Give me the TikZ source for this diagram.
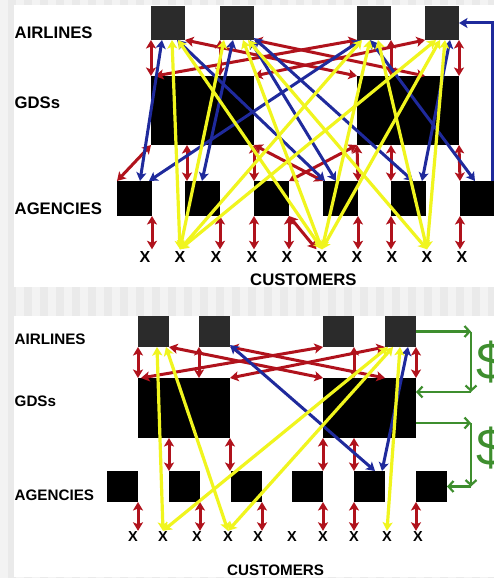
\documentclass[tikz,border=0pt]{standalone}
\usepackage{fontspec}
\setmainfont{Liberation Sans}
\usetikzlibrary{arrows.meta,calc}
\definecolor{bggray}{HTML}{EAEAEA}
\definecolor{stripe}{HTML}{F3F3F3}
\definecolor{airgray}{HTML}{2B2B2B}
\definecolor{linkred}{HTML}{B0121C}
\definecolor{linkblue}{HTML}{1F2A9C}
\definecolor{linkyellow}{HTML}{F0F51E}
\definecolor{moneygreen}{HTML}{3E8E2E}

\begin{document}
\begin{tikzpicture}[x=1pt,y=-1pt,
  >={Stealth[length=8.5pt,width=10pt,inset=2pt]},
  boxbase/.style={inner sep=0pt, outer sep=0pt, anchor=north west},
  airbox/.style={boxbase, fill=airgray, minimum width=34pt, minimum height=34pt},
  airboxsm/.style={boxbase, fill=airgray, minimum width=31pt, minimum height=31pt},
  gdsbox/.style={boxbase, fill=black},
  agbox/.style={boxbase, fill=black, minimum width=35pt, minimum height=35pt},
  agboxsm/.style={boxbase, fill=black, minimum width=31pt, minimum height=31pt},
  lbl/.style={font=\bfseries\fontsize{16.7}{18}\selectfont, anchor=west, inner sep=0pt},
  lblsm/.style={font=\bfseries\fontsize{15.2}{16}\selectfont, anchor=west, inner sep=0pt},
  cust/.style={font=\bfseries\fontsize{16}{16}\selectfont, inner xsep=0pt, inner ysep=2pt},
  custsm/.style={font=\bfseries\fontsize{14.5}{14.5}\selectfont, inner xsep=0pt, inner ysep=1pt},
  redlink/.style={draw=linkred, line width=3pt, <->},
  bluelink/.style={draw=linkblue, line width=3pt, <->},
  yellink/.style={draw=linkyellow, line width=3.2pt, <->},
  greenlink/.style={draw=moneygreen, line width=2.2pt, -{Straight Barb[length=5pt,width=11pt]}},
  dollar/.style={font=\fontsize{52}{52}\selectfont, text=moneygreen, anchor=west, inner sep=0pt}
]
\useasboundingbox (0,0) rectangle (494,578);

% page background with faint vertical stripes
\fill[bggray] (0,0) rectangle (494,578);
\foreach \sx in {0,16,...,480} {\fill[stripe] (\sx,0) rectangle ++(8,578);}
\fill[white] (14,5) rectangle (494,287);
\fill[white] (14,316) rectangle (494,577);

% ================= upper network =================
\node[lbl] (tlair) at (14.5,33) {AIRLINES};
\node[lbl] (tlgds) at (14.5,102.5) {GDSs};
\node[lbl] (tlag) at (14.5,208.5) {AGENCIES};
\node[lbl] (tlcust) at (250,280) {CUSTOMERS};

\node[airbox] (ta1) at (151,6) {};
\node[airbox] (ta2) at (220,6) {};
\node[airbox] (ta3) at (357,6) {};
\node[airbox] (ta4) at (425,6) {};
\node[gdsbox, minimum width=103pt, minimum height=69pt] (tg1) at (151,76) {};
\node[gdsbox, minimum width=102pt, minimum height=69pt] (tg2) at (357,76) {};
\node[agbox] (tc1) at (117,181) {};
\node[agbox] (tc2) at (185,181) {};
\node[agbox] (tc3) at (254,181) {};
\node[agbox] (tc4) at (323,181) {};
\node[agbox] (tc5) at (391,181) {};
\node[agbox] (tc6) at (460,181) {};
\foreach \i/\cx in {1/145,2/180,3/216,4/252,5/287,6/322,7/357,8/392,9/427,10/462}
  {\node[cust] (tx\i) at (\cx,257) {X};}

% airlines <-> GDSs
\draw[redlink] (ta1.south west) -- (tg1.north west);
\draw[redlink] (ta2.south west) -- (ta2.south west |- tg1.north);
\draw[redlink] (ta1.south east) -- (tg2.north west);
\draw[redlink] ([xshift=4pt]tg1.north west) -- (ta3.south west);
\draw[redlink] (tg1.north east) -- (ta4.south west);
\draw[redlink] (ta2.south east) -- (ta4.south west |- tg2.north);
\draw[redlink] (ta3.south east) -- (ta3.south east |- tg2.north);
\draw[redlink] (ta4.south east) -- (tg2.north east);
% GDSs <-> agencies
\draw[redlink] (tg1.south west) -- (tc1.north west);
\draw[redlink] ([xshift=2pt]tc2.north west) -- ([xshift=2pt]tc2.north west |- tg1.south);
\draw[redlink] (tg1.south east) -- (tc3.north west);
\draw[redlink] (tg1.south east) -- (tc4.north west);
\draw[redlink] (tg2.south west) -- (tc3.north east);
\draw[redlink] (tg2.south west) -- (tc4.north east);
\draw[redlink] (tc5.north west) -- (tc5.north west |- tg2.south);
\draw[redlink] (tc6.north west) -- (tg2.south east);
% agencies <-> customers
\draw[redlink] (tc1.south east) -- (tc1.south east |- tx1.north);
\draw[redlink] (tc2.south east) -- (tc2.south east |- tx3.north);
\draw[redlink] (tc3.south west) -- (tc3.south west |- tx4.north);
\draw[redlink] (tc3.south east) -- (tc3.south east |- tx5.north);
\draw[redlink] (tc3.south east) -- (tx6.north west);
\draw[redlink] (tc4.south east) -- (tc4.south east |- tx7.north);
\draw[redlink] (tc5.south west) -- (tc5.south west |- tx8.north);
\draw[redlink] (tc6.south west) -- (tc6.south west |- tx10.north);

% airlines <-> agencies
\draw[bluelink] ([xshift=11pt]ta1.south west) -- ([xshift=23pt]tc1.north west);
\draw[bluelink] ([xshift=26pt]ta1.south west) -- ([xshift=2pt]tc4.north west);
\draw[bluelink] ([xshift=13pt]ta2.south west) -- ([xshift=17pt]tc2.north west);
\draw[bluelink] ([xshift=30pt]ta2.south west) -- ([xshift=13pt]tc4.north west);
\draw[bluelink] ([yshift=2pt]ta2.south east) -- ([xshift=22pt]tc5.north west);
\draw[bluelink] ([xshift=4pt]ta3.south west) -- ([xshift=32pt]tc1.north west);
\draw[bluelink] ([xshift=13pt]ta3.south west) -- ([xshift=15pt]tc6.north west);
\draw[bluelink] ([xshift=25pt]ta4.south west) -- ([xshift=31pt]tc5.north west);
\draw[bluelink, ->] ([xshift=-3pt]tc6.north east) |- (ta4.east);

% airlines <-> customers
\draw[yellink] ([xshift=21pt]ta1.south west) -- (tx2.north);
\draw[yellink] ([xshift=4pt]ta2.south west) -- (tx2.north);
\draw[yellink] ([xshift=5pt]ta3.south west) -- (tx2.north);
\draw[yellink] ([xshift=11pt]ta4.south west) -- (tx2.north);
\draw[yellink] ([xshift=27pt]ta1.south west) -- (tx6.north);
\draw[yellink] ([xshift=23pt]ta2.south west) -- (tx6.north);
\draw[yellink] ([xshift=13pt]ta3.south west) -- (tx6.north);
\draw[yellink] ([xshift=15pt]ta4.south west) -- (tx6.north);
\draw[yellink] ([xshift=28pt]ta2.south west) -- (tx9.north);
\draw[yellink] ([xshift=21pt]ta3.south west) -- (tx9.north);
\draw[yellink] ([xshift=20pt]ta4.south west) -- (tx9.north);

% ================= lower network =================
\node[lblsm] (blair) at (14.5,339) {AIRLINES};
\node[lblsm] (blgds) at (14.5,401.5) {GDSs};
\node[lblsm] (blag) at (14.5,495.5) {AGENCIES};
\node[lblsm] (blcust) at (227,570) {CUSTOMERS};

\node[airboxsm] (ba1) at (138,316) {};
\node[airboxsm] (ba2) at (199,316) {};
\node[airboxsm] (ba3) at (323,316) {};
\node[airboxsm] (ba4) at (385,316) {};
\node[gdsbox, minimum width=92pt, minimum height=60pt] (bg1) at (138,378) {};
\node[gdsbox, minimum width=93pt, minimum height=60pt] (bg2) at (323,378) {};
\node[agboxsm] (bc1) at (107,471) {};
\node[agboxsm] (bc2) at (169,471) {};
\node[agboxsm] (bc3) at (231,471) {};
\node[agboxsm] (bc4) at (292,471) {};
\node[agboxsm] (bc5) at (354,471) {};
\node[agboxsm] (bc6) at (416,471) {};
\foreach \i/\cx in {1/133,2/163,3/197,4/228,5/258,6/292,7/323,8/354,9/387,10/418}
  {\node[custsm] (bx\i) at (\cx,537) {X};}

% airlines <-> GDSs
\draw[redlink] (ba1.south west) -- (bg1.north west);
\draw[redlink] (ba2.south west) -- (ba2.south west |- bg1.north);
\draw[redlink] (ba1.south east) -- (bg2.north west);
\draw[redlink] ([xshift=3pt]bg1.north west) -- (ba3.south west);
\draw[redlink] (bg1.north east) -- (ba4.south west);
\draw[redlink] (ba2.south east) -- (ba4.south west |- bg2.north);
\draw[redlink] (ba3.south east) -- (ba3.south east |- bg2.north);
\draw[redlink] (ba4.south east) -- (bg2.north east);
% GDSs <-> agencies
\draw[redlink] (bc2.north west) -- (bc2.north west |- bg1.south);
\draw[redlink] (bg1.south east) -- (bg1.south east |- bc3.north);
\draw[redlink] (bg2.south west) -- (bg2.south west |- bc4.north);
\draw[redlink] (bc5.north west) -- (bc5.north west |- bg2.south);
% agencies <-> customers
\draw[redlink] (bc1.south east) -- (bc1.south east |- bx1.north);
\draw[redlink] (bc2.south east) -- (bc2.south east |- bx3.north);
\draw[redlink] (bc3.south east) -- (bc3.south east |- bx5.north);
\draw[redlink] (bc4.south east) -- (bc4.south east |- bx7.north);
\draw[redlink] (bc5.south west) -- (bc5.south west |- bx8.north);
\draw[redlink] (bc6.south west) -- (bc6.south west |- bx10.north);

% airlines <-> agencies
\draw[bluelink] ([yshift=2pt]ba2.south east) -- ([xshift=21pt]bc5.north west);
\draw[bluelink] ([xshift=23pt]ba4.south west) -- ([xshift=28pt]bc5.north west);

% airlines <-> customers
\draw[yellink] ([xshift=19pt]ba1.south west) -- (bx2.north);
\draw[yellink] ([xshift=28pt]ba1.south west) -- (bx4.north);
\draw[yellink] ([xshift=3pt]ba4.south west) -- (bx2.north);
\draw[yellink] ([xshift=8pt]ba4.south west) -- (bx4.north);
\draw[yellink] ([xshift=15pt]ba4.south west) -- (bx9.north);

% money flows
\coordinate (g1a) at (471,331.5);
\coordinate (g1b) at (471,392);
\coordinate (g2a) at (471,423);
\coordinate (g2b) at (471,486.5);
\draw[greenlink] (ba4.east) -- (g1a);
\draw[greenlink] (g1a) -- (g1b);
\draw[greenlink] (g1b) -- (g1b -| bg2.east);
\draw[greenlink] (g2a -| bg2.east) -- (g2a);
\draw[greenlink] (g2a) -- (g2b);
\draw[greenlink] (g2b) -- (bc6.east);
\node[dollar] (d1) at (476,362) {\$};
\node[dollar] (d2) at (476,448) {\$};
\end{tikzpicture}
\end{document}
